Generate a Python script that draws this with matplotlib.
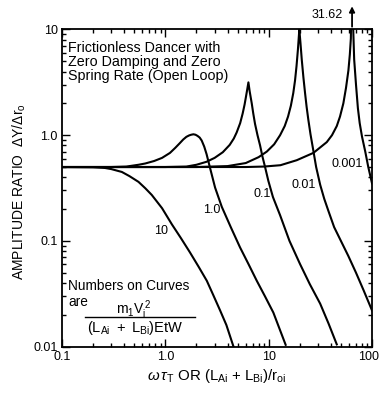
import matplotlib
matplotlib.use("Agg")
import matplotlib.pyplot as plt
import matplotlib.transforms as mtransforms

plt.rcParams['font.family'] = ['Liberation Sans', 'DejaVu Sans']
plt.rcParams['mathtext.fontset'] = 'custom'
plt.rcParams['mathtext.rm'] = 'Liberation Sans'
plt.rcParams['mathtext.it'] = 'Liberation Sans:italic'
plt.rcParams['mathtext.bf'] = 'Liberation Sans:bold'

# curves, one pair of lists per parameter value
x_10 = [0.1, 0.2, 0.26, 0.3, 0.38, 0.45, 0.55, 0.64, 0.74, 0.93, 1.16, 1.41, 1.73,
        2.1, 2.52, 2.9, 3.39, 3.9, 4.6]
y_10 = [0.5, 0.497, 0.49, 0.478, 0.449, 0.41, 0.362, 0.315, 0.272, 0.204, 0.143, 0.107,
        0.078, 0.057, 0.042, 0.031, 0.022, 0.016, 0.0098]

x_1 = [0.1, 0.3, 0.42, 0.55, 0.64, 0.78, 0.93, 1.11, 1.25, 1.38, 1.49, 1.6, 1.7, 1.78,
       1.87, 1.96, 2.05, 2.15, 2.25, 2.38, 2.51, 2.71, 3.03, 3.52, 4.3, 5.28, 6.4, 7.67,
       9.2, 11.1, 14.6]
y_1 = [0.5, 0.5, 0.505, 0.525, 0.54, 0.57, 0.61, 0.68, 0.76, 0.84, 0.91, 0.965, 0.995, 1.01,
       1.02, 1.01, 0.985, 0.95, 0.89, 0.78, 0.66, 0.49, 0.32, 0.21, 0.135, 0.087, 0.06, 0.042,
       0.03, 0.021, 0.0104]

x_01 = [0.1, 1.0, 1.6, 2.0, 2.5, 3.0, 3.6, 4.2, 4.6, 4.9, 5.3, 5.6, 5.85, 6.05, 6.2, 6.37,
        6.55, 6.86, 7.1, 7.38, 7.8, 8.26, 8.7, 9.23, 9.93, 11.0, 12.9, 15.9, 20.1, 25.0,
        31.5, 38.0, 45.6]
y_01 = [0.5, 0.5, 0.505, 0.525, 0.56, 0.61, 0.69, 0.81, 0.93, 1.06, 1.3, 1.6, 1.95, 2.35,
        2.7, 3.16, 2.6, 2.0, 1.6, 1.28, 1.0, 0.8, 0.63, 0.5, 0.37, 0.26, 0.175, 0.1, 0.0605,
        0.039, 0.0255, 0.0165, 0.0105]

x_001 = [0.1, 2.0, 4.0, 6.0, 8.0, 9.6, 11.3, 12.9, 14.3, 15.4, 16.4, 17.3, 18.0, 18.6,
         19.2, 19.8, 20.3, 20.9, 21.7, 22.5, 23.3, 24.2, 25.4, 26.7, 28.8, 31.5, 34.5,
         38.0, 43.0, 50.0, 59.0, 70.0, 83.0, 100.0]
y_001 = [0.5, 0.5, 0.51, 0.545, 0.62, 0.7, 0.82, 1.0, 1.22, 1.5, 1.9, 2.5, 3.3, 4.5,
         6.5, 10.0, 7.5, 5.2, 3.5, 2.5, 1.85, 1.4, 1.02, 0.77, 0.5, 0.34, 0.25,
         0.19, 0.135, 0.1, 0.072, 0.05, 0.034, 0.022]

x_0001 = [0.1, 6.0, 9.0, 13.0, 18.7, 27.1, 36.5, 41.0, 45.6, 49.0, 52.8, 56.0, 59.1, 61.0,
          62.4, 63.7, 65.8, 67.2, 70.0, 73.0, 76.0, 80.0, 86.0, 92.0, 100.0]
y_0001 = [0.5, 0.5, 0.505, 0.52, 0.58, 0.68, 0.86, 1.0, 1.22, 1.5, 2.0, 2.8, 4.1, 5.8,
          8.2, 31.62, 10.0, 5.2, 3.0, 1.8, 1.3, 0.97, 0.7, 0.5, 0.35]

curve_names = ['10', '1.0', '0.1', '0.01', '0.001']
peak_value = 31.62

x_ticks = [0.1, 1, 10, 100]
x_ticklabels = ['0.1', '1.0', '10', '100']
y_ticks = [0.01, 0.1, 1, 10]
y_ticklabels = ['0.01', '0.1', '1.0', '10']

fig = plt.figure(figsize=(3.8, 3.93), dpi=100)
ax = fig.add_axes([0.163, 0.118, 0.816, 0.807])

curves = [(x_10, y_10), (x_1, y_1), (x_01, y_01), (x_001, y_001), (x_0001, y_0001)]
for xs, ys in curves:
    ax.plot(xs, ys, color='black', lw=1.5, solid_joinstyle='round')

ax.set_xscale('log')
ax.set_yscale('log')
ax.set_xlim(0.1, 100)
ax.set_ylim(0.01, 10)
ax.set_xticks(x_ticks, x_ticklabels)
ax.set_yticks(y_ticks, y_ticklabels)
ax.tick_params(which='both', direction='in', top=True, right=True, labelsize=9, width=1)
ax.tick_params(which='major', length=6, pad=3)
ax.tick_params(which='minor', length=3)
for s in ax.spines.values():
    s.set_linewidth(1.3)

# pull the last x tick label a little inside the figure
last = ax.get_xticklabels()[-1]
last.set_transform(last.get_transform() +
                   mtransforms.ScaledTranslation(-3 / 100, 0, fig.dpi_scale_trans))

# curve labels
label_pos = [(0.92, 0.124), (2.81, 0.197), (8.57, 0.275), (21.7, 0.34), (58, 0.535)]
for name, (lx, ly) in zip(curve_names, label_pos):
    ax.text(lx, ly, name, fontsize=9, ha='center', va='center')

# peak of the 0.001 curve is off the chart
ax.annotate('', xy=(64.1, 17.6), xytext=(64.1, 10),
            arrowprops=dict(arrowstyle='-|>', lw=1.3, color='black', mutation_scale=8),
            annotation_clip=False)
ax.text(36.5, 13.7, f'{peak_value:.2f}', fontsize=9, ha='center', va='center', clip_on=False)

ax.text(0.02, 0.965, 'Frictionless Dancer with\nZero Damping and Zero\nSpring Rate (Open Loop)',
        transform=ax.transAxes, fontsize=10.3, ha='left', va='top', linespacing=1.0)

# key to the curve numbers
ax.text(0.02, 0.213, 'Numbers on Curves', transform=ax.transAxes,
        fontsize=9.8, ha='left', va='top')
ax.text(0.02, 0.163, 'are', transform=ax.transAxes,
        fontsize=9.8, ha='left', va='top')
ax.text(0.232, 0.104, r'$\mathrm{m_1V_i^{\,2}}$', transform=ax.transAxes,
        fontsize=10, ha='center', va='baseline')
ax.plot([0.075, 0.43], [0.0945, 0.0945], transform=ax.transAxes, color='black', lw=1,
        clip_on=False)
ax.text(0.235, 0.058, r'$\mathrm{(L_{Ai}\ +\ L_{Bi})EtW}$', transform=ax.transAxes,
        fontsize=10.5, ha='center', va='center')

ax.set_ylabel(r'AMPLITUDE RATIO  $\Delta$Y/$\Delta$r$_\mathrm{o}$', fontsize=10)
ax.yaxis.set_label_coords(-0.108, 0.489)
ax.set_xlabel(r'$\omega\,\tau_\mathrm{T}$ OR (L$_\mathrm{Ai}$ + L$_\mathrm{Bi}$)/r$_\mathrm{oi}$',
              fontsize=10.8, labelpad=3)

fig.savefig('out.png', dpi=100)
